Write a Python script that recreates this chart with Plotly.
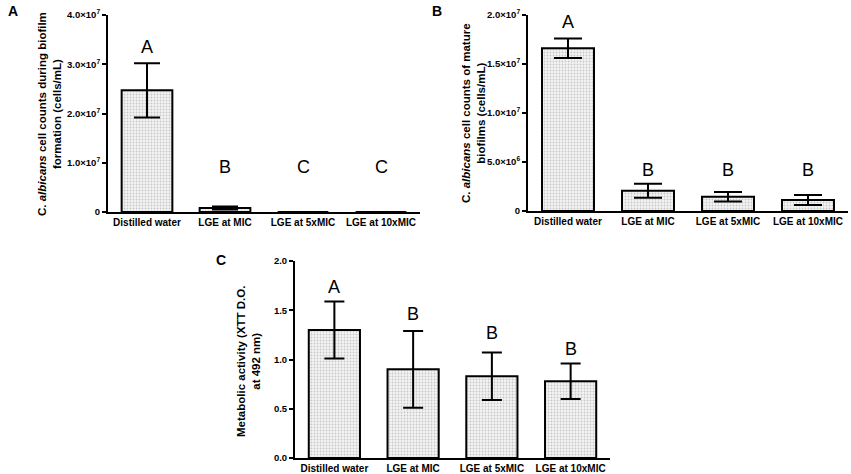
import plotly.graph_objects as go

# data
categories = ["Distilled water", "LGE at MIC", "LGE at 5xMIC", "LGE at 10xMIC"]

a_mean = [2.47e7, 0.08e7, 0, 0]
a_err = [0.55e7, 0.03e7, 0, 0]
a_letters = ["A", "B", "C", "C"]
a_letter_y = [3.35e7, 0.91e7, 0.91e7, 0.91e7]
a_tickvals = [0, 1e7, 2e7, 3e7, 4e7]
a_ticktext = ["0", "1.0×10<sup>7</sup>", "2.0×10<sup>7</sup>", "3.0×10<sup>7</sup>", "4.0×10<sup>7</sup>"]

b_mean = [1.66e7, 0.207e7, 0.146e7, 0.112e7]
b_err = [0.10e7, 0.072e7, 0.048e7, 0.051e7]
b_letters = ["A", "B", "B", "B"]
b_letter_y = [1.93e7, 0.42e7, 0.42e7, 0.42e7]
b_tickvals = [0, 5e6, 1e7, 1.5e7, 2e7]
b_ticktext = ["0", "5.0×10<sup>6</sup>", "1.0×10<sup>7</sup>", "1.5×10<sup>7</sup>", "2.0×10<sup>7</sup>"]

c_mean = [1.30, 0.90, 0.83, 0.78]
c_err = [0.29, 0.39, 0.24, 0.18]
c_letters = ["A", "B", "B", "B"]
c_letter_y = [1.74, 1.46, 1.27, 1.11]
c_tickvals = [0, 0.5, 1.0, 1.5, 2.0]
c_ticktext = ["0.0", "0.5", "1.0", "1.5", "2.0"]

W, H = 851, 474
FONT = "Liberation Sans, Arial, sans-serif"


def px_x(p):
    return p / W


def px_y(p):
    return 1 - p / H


fig = go.Figure()

panels = [
    # suffix, means, errs, letters, letter_y, tickvals, ticktext, x px domain, y px domain, cap width
    ("", a_mean, a_err, a_letters, a_letter_y, a_tickvals, a_ticktext, (108, 420), (15, 212), 13),
    ("2", b_mean, b_err, b_letters, b_letter_y, b_tickvals, b_ticktext, (528, 848), (15, 211), 14),
    ("3", c_mean, c_err, c_letters, c_letter_y, c_tickvals, c_ticktext, (295, 610), (261, 458), 10),
]

for sfx, mean, err, letters, ly, tv, tt, xd, yd, cap in panels:
    fig.add_trace(go.Bar(
        x=categories, y=mean,
        xaxis="x" + sfx, yaxis="y" + sfx,
        width=0.65,
        marker=dict(
            color="#999999",
            line=dict(color="black", width=2),
            pattern=dict(shape=".", bgcolor="#f4f4f4", fgcolor="#9a9a9a", size=3, solidity=0.3),
        ),
        error_y=dict(type="data", array=err, visible=True, color="black", thickness=2, width=cap),
        showlegend=False,
    ))
    for cat, lab, yy in zip(categories, letters, ly):
        fig.add_annotation(x=cat, y=yy, xref="x" + sfx, yref="y" + sfx, text=lab,
                           xanchor="center", yanchor="middle",
                           showarrow=False, font=dict(size=18, color="black", family=FONT))
    fig.layout["xaxis" + sfx] = dict(
        domain=[px_x(xd[0]), px_x(xd[1])], anchor="y" + sfx,
        type="category", range=[-0.5, 3.5], automargin=False,
        showline=True, linecolor="black", linewidth=2, ticks="",
        tickfont=dict(size=10, family=FONT, color="black", weight="bold"),
        showgrid=False, zeroline=False,
    )
    fig.layout["yaxis" + sfx] = dict(
        domain=[px_y(yd[1]), px_y(yd[0])], anchor="x" + sfx,
        range=[tv[0], tv[-1]], tickvals=tv, ticktext=tt, automargin=False,
        showline=True, linecolor="black", linewidth=2,
        ticks="outside", ticklen=4, tickwidth=1.5, tickcolor="black",
        tickfont=dict(size=9.5, family=FONT, color="black", weight="bold"),
        showgrid=False, zeroline=False,
    )

# y axis titles
titles = [
    ("C. <i>albicans</i> cell counts during biofilm<br>formation (cells/mL)", 50, 114),
    ("C. <i>albicans</i> cell counts of mature<br>biofilms (cells/mL)", 474, 113),
    ("Metabolic activity (XTT D.O.<br>at 492 nm)", 248, 362),
]
for txt, x, y in titles:
    fig.add_annotation(x=px_x(x), y=px_y(y), xref="paper", yref="paper", text=txt,
                       xanchor="center", yanchor="middle",
                       textangle=-90, showarrow=False,
                       font=dict(size=11.5, family=FONT, color="black", weight="bold"))

# panel letters
for lab, x, y in [("A", 13, 11), ("B", 437, 11), ("C", 221, 260)]:
    fig.add_annotation(x=px_x(x), y=px_y(y), xref="paper", yref="paper", text=lab,
                       xanchor="center", yanchor="middle",
                       showarrow=False,
                       font=dict(size=14, family=FONT, color="black", weight="bold"))

fig.update_layout(
    width=W, height=H,
    margin=dict(l=0, r=0, t=0, b=0, autoexpand=False),
    paper_bgcolor="white", plot_bgcolor="white",
    bargap=0.35,
)

# drop the default page margin so the figure sits at the window corner
fig.write_html("out.html", config={"displayModeBar": False},
               post_script="document.body.style.margin = '0px';")
